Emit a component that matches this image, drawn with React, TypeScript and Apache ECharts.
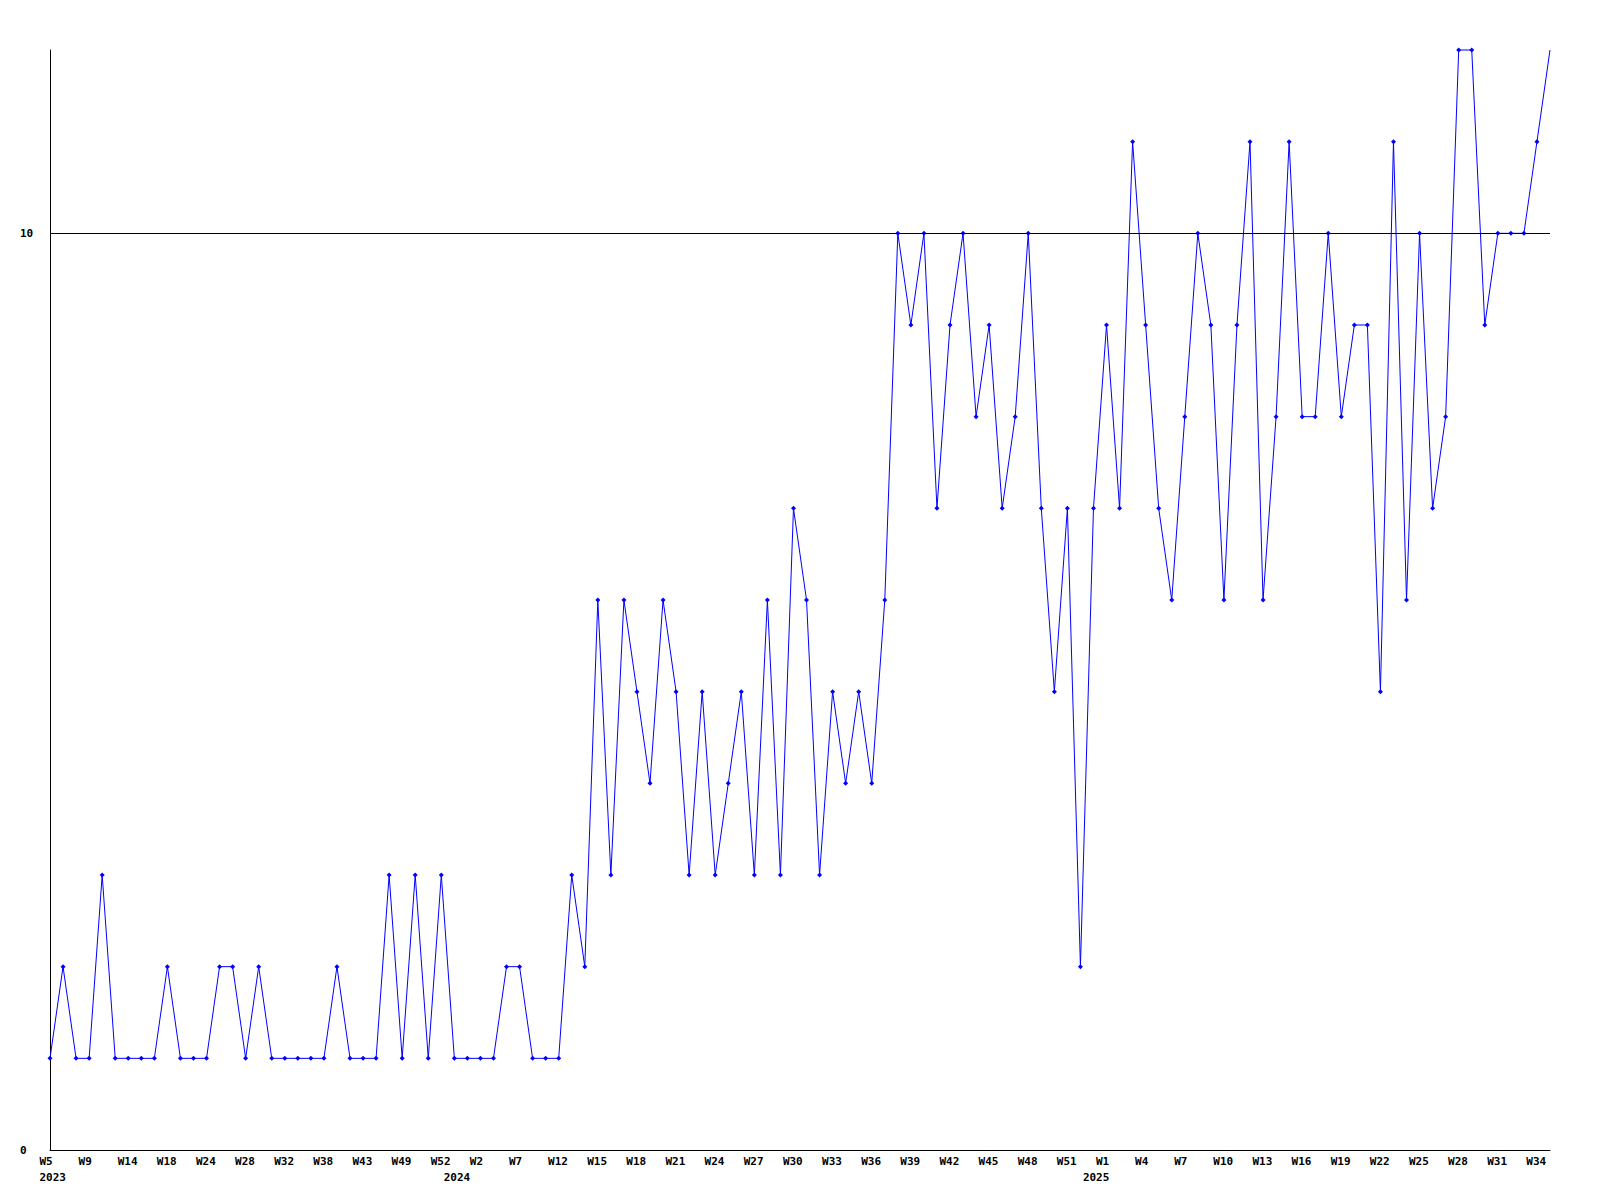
import React, { useEffect, useRef } from "react";
import * as echarts from "echarts";

// ---- data ----
const weeks2023 = [5, 6, 8, 9, 10, 12, 14, 15, 17, 18, 20, 22, 24, 25, 27, 28, 30, 31, 32, 34, 36, 38, 40, 41, 43, 45, 47, 49, 50, 51, 52];
const weeks2024 = [0, 1, 2, 3, 5, 7, 9, 10, 12, 13, 14, 15, 16, 17, 18, 19, 20, 21, 22, 23, 24, 25, 26, 27, 28, 29, 30, 31, 32, 33, 34, 35, 36, 37, 38, 39, 40, 41, 42, 43, 44, 45, 46, 47, 48, 49, 50, 51, 52];
const weeks2025 = [0, 1, 2, 3, 4, 5, 6, 7, 8, 9, 10, 11, 12, 13, 14, 15, 16, 17, 18, 19, 20, 21, 22, 23, 24, 25, 26, 27, 28, 29, 30, 31, 32, 33, 34, 35];

const categories: string[] = [
  ...weeks2023.map((w) => `2023-W${w}`),
  ...weeks2024.map((w) => `2024-W${w}`),
  ...weeks2025.map((w) => `2025-W${w}`),
];

const values = [
  1, 2, 1, 1, 3, 1, 1, 1, 1, 2,
  1, 1, 1, 2, 2, 1, 2, 1, 1, 1,
  1, 1, 2, 1, 1, 1, 3, 1, 3, 1,
  3, 1, 1, 1, 1, 2, 2, 1, 1, 1,
  3, 2, 6, 3, 6, 5, 4, 6, 5, 3,
  5, 3, 4, 5, 3, 6, 3, 7, 6, 3,
  5, 4, 5, 4, 6, 10, 9, 10, 7, 9,
  10, 8, 9, 7, 8, 10, 7, 5, 7, 2,
  7, 9, 7, 11, 9, 7, 6, 8, 10, 9,
  6, 9, 11, 6, 8, 11, 8, 8, 10, 8,
  9, 9, 5, 11, 6, 10, 7, 8, 12, 12,
  9, 10, 10, 10, 11, 12,
];

const yMin = 0;
const yMax = 12;
const yInterval = 10;
const referenceLine = 10;

const FONT = "'DejaVu Sans Mono', 'Liberation Mono', monospace";
const FONT_SIZE = 11;

export default function App() {
  const ref = useRef<HTMLDivElement>(null);

  useEffect(() => {
    if (!ref.current) return;
    const chart = echarts.init(ref.current, undefined, { renderer: "svg" });
    const plotLeft = 50;
    const plotWidth = 1500;
    const labelShift = 10.6;
    const labelGrid = {
      left: plotLeft - labelShift,
      width: plotWidth,
      top: 50,
      bottom: 50,
    };
    const hiddenY = { type: "value" as const, show: false, min: 0, max: 1 };
    const hiddenCat = (gridIndex: number) => ({
      type: "category" as const,
      gridIndex,
      data: categories,
      boundaryGap: false,
      axisLine: { show: false },
      axisTick: { show: false },
      splitLine: { show: false },
    });
    const labelFont = {
      fontFamily: FONT,
      fontWeight: "bold" as const,
      fontSize: FONT_SIZE,
      lineHeight: FONT_SIZE,
      color: "#000000",
    };

    chart.setOption({
      animation: false,
      backgroundColor: "#ffffff",
      grid: [
        { left: plotLeft, width: plotWidth, top: 50, bottom: 50 },
        labelGrid,
        labelGrid,
      ],
      xAxis: [
        {
          type: "category",
          gridIndex: 0,
          data: categories,
          boundaryGap: false,
          axisLine: { show: true, lineStyle: { color: "#000000", width: 1 } },
          axisTick: { show: false },
          axisLabel: { show: false },
          splitLine: { show: false },
        },
        {
          ...hiddenCat(1),
          axisLabel: {
            show: true,
            interval: 2,
            align: "left",
            margin: 6,
            ...labelFont,
            formatter: (v: string) => v.split("-")[1],
          },
        },
        {
          ...hiddenCat(2),
          axisLabel: {
            show: true,
            interval: (index: number, v: string) =>
              index === 0 || categories[index - 1].split("-")[0] !== v.split("-")[0],
            align: "left",
            margin: 22,
            ...labelFont,
            formatter: (v: string) => v.split("-")[0],
          },
        },
      ],
      yAxis: [
        {
          type: "value",
          gridIndex: 0,
          min: yMin,
          max: yMax,
          interval: yInterval,
          axisLine: { show: true, lineStyle: { color: "#000000", width: 1 } },
          axisTick: { show: false },
          splitLine: { show: false },
          axisLabel: {
            show: true,
            showMaxLabel: false,
            align: "left",
            margin: 30,
            fontFamily: FONT,
            fontWeight: "bold",
            fontSize: FONT_SIZE,
            color: "#000000",
          },
        },
        { ...hiddenY, gridIndex: 1 },
        { ...hiddenY, gridIndex: 2 },
      ],
      series: [
        {
          type: "line",
          xAxisIndex: 0,
          yAxisIndex: 0,
          data: values,
          symbol: (_v: any, params: any) =>
            params.dataIndex === values.length - 1 ? "none" : "diamond",
          symbolSize: 5,
          showAllSymbol: true,
          lineStyle: { color: "#0000ff", width: 1 },
          itemStyle: { color: "#0000ff" },
          clip: false,
          markLine: {
            silent: true,
            symbol: "none",
            label: { show: false },
            lineStyle: { color: "#000000", width: 1, type: "solid" },
            data: [{ yAxis: referenceLine }],
          },
        },
      ],
    });
    return () => chart.dispose();
  }, []);

  return (
    <div
      ref={ref}
      style={{ position: "fixed", left: 0, top: 0, width: 1600, height: 1200, background: "#fff" }}
    />
  );
}
